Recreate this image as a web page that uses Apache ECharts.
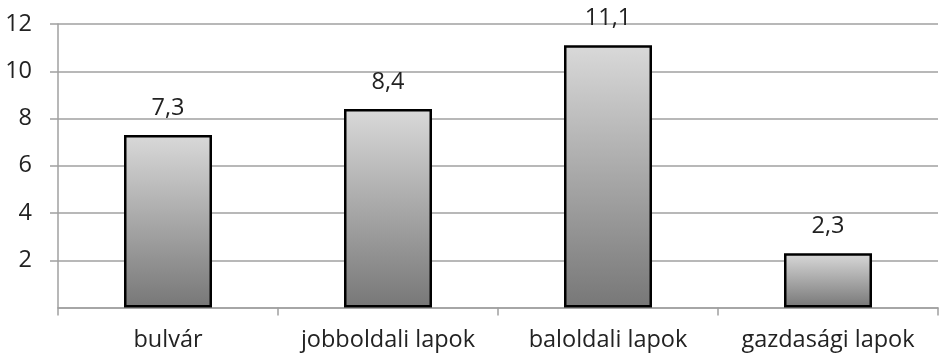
<!DOCTYPE html>
<html><head><meta charset="utf-8">
<script src="https://cdn.jsdelivr.net/npm/echarts@6/dist/echarts.min.js"></script>
<style>html,body{margin:0;padding:0;background:#fff}#c{width:939px;height:355px}</style>
</head><body><div id="c"></div>
<script>
const categories = ["bulvár", "jobboldali lapok", "baloldali lapok", "gazdasági lapok"];
const values = [7.3, 8.4, 11.1, 2.3];
const yTicks = [0, 2, 4, 6, 8, 10, 12];

const font = '"Open Sans", sans-serif';
const chart = echarts.init(document.getElementById('c'), null, {renderer: 'canvas'});
chart.setOption({
  animation: false,
  grid: {left: 58, right: 1, top: 24, bottom: 47.5, containLabel: false},
  xAxis: {
    type: 'category', data: categories,
    axisLine: {lineStyle: {color: '#a0a0a0', width: 1.5}},
    axisTick: {show: true, length: 8, alignWithLabel: false, lineStyle: {color: '#a0a0a0', width: 1.5}},
    axisLabel: {color: '#222', fontFamily: font, fontSize: 23.5, margin: 21, interval: 0}
  },
  yAxis: {
    type: 'value', min: yTicks[0], max: yTicks[yTicks.length - 1], interval: 2,
    axisLine: {show: true, lineStyle: {color: '#a0a0a0', width: 1.5}},
    axisTick: {show: true, length: 8, lineStyle: {color: '#a0a0a0', width: 1.5}},
    splitLine: {show: true, lineStyle: {color: '#a0a0a0', width: 1.5}},
    axisLabel: {color: '#222', fontFamily: font, fontSize: 23.5, margin: 26, showMinLabel: false,
      formatter: v => v === 0 ? '' : String(v)}
  },
  series: [{
    type: 'bar', data: values, barWidth: 88,
    itemStyle: {
      color: new echarts.graphic.LinearGradient(0, 0, 0, 1, [
        {offset: 0, color: '#d9d9d9'}, {offset: 1, color: '#777777'}
      ]),
      borderColor: '#000', borderWidth: 2.5
    },
    label: {
      show: true, position: 'top', distance: 15, color: '#222', fontFamily: font, fontSize: 23.5,
      formatter: p => String(p.value).replace('.', ',')
    }
  }]
});
</script></body></html>
